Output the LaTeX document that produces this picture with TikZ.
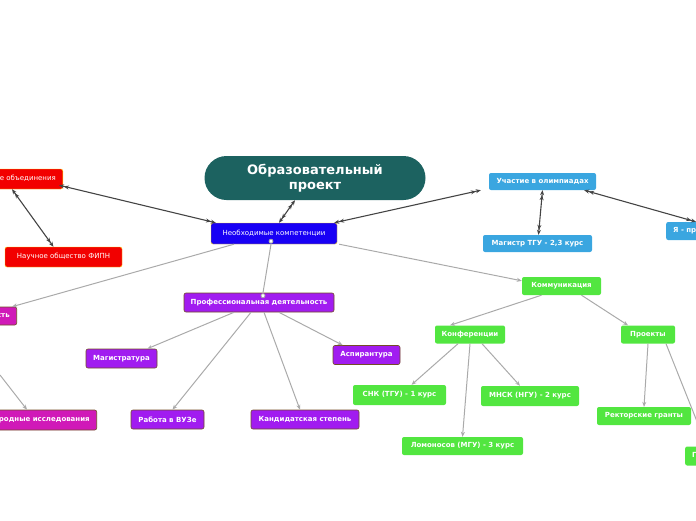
\documentclass[tikz,border=0pt]{standalone}
\usepackage{fontspec}
\setmainfont{DejaVu Sans}
\usetikzlibrary{arrows.meta}
\definecolor{teal}{HTML}{1C6260}
\definecolor{bluec}{HTML}{1800F5}
\definecolor{redc}{HTML}{F20000}
\definecolor{purp}{HTML}{A11CF0}
\definecolor{mag}{HTML}{D019B8}
\definecolor{sky}{HTML}{3AA6E0}
\definecolor{grn}{HTML}{52E640}
\definecolor{lnk}{HTML}{AAAAAA}
\definecolor{dk}{HTML}{444444}
\tikzset{
 box/.style={rounded corners=2pt,text=white,font=\fontsize{7}{8}\selectfont,inner sep=0pt,minimum height=19pt,align=center},
 bb/.style={box,font=\fontsize{7}{8}\selectfont\bfseries},
 pbox/.style={bb,fill=purp,draw=brown!60!black,line width=0.6pt},
 mbox/.style={bb,fill=mag,draw=brown!60!black,line width=0.6pt},
 gbox/.style={bb,fill=grn,minimum height=18pt},
 sbox/.style={bb,fill=sky,minimum height=17pt},
 rbox/.style={box,fill=redc,draw=yellow!70!orange,line width=0.4pt,minimum height=20pt},
 rt/.style={anchor=east,inner xsep=7pt,align=right},
 lt/.style={anchor=west,inner xsep=7pt,align=left},
 gl/.style={draw=lnk,line width=1pt,-{Stealth[length=5pt,width=4pt]}},
 dl/.style={draw=dk,line width=1.1pt,{Stealth[length=5pt,width=4pt]Stealth[length=5pt,width=4pt]}-{Stealth[length=5pt,width=4pt]Stealth[length=5pt,width=4pt]}},
}
\begin{document}
\begin{tikzpicture}[x=1pt,y=-1pt]
\useasboundingbox (0,0) rectangle (696,520);
\clip (0,0) rectangle (696,520);
\node[fill=teal,rounded corners=22pt,minimum width=221pt,minimum height=44pt,text=white,font=\fontsize{13}{15}\selectfont\bfseries,align=center,inner sep=0pt] (t) at (315,178) {Образовательный\\проект};
\node[box,fill=bluec,draw=yellow!70!orange,line width=0.4pt,minimum width=126pt,minimum height=21pt] (c) at (274,233.5) {Необходимые компетенции};
\node[rbox,rt] (ob) at (63,179) {Научные объединения};
\node[rbox,minimum width=117pt] (fi) at (63.5,257) {Научное общество ФИПН};
\node[mbox,rt,minimum height=18pt] (nd) at (17,316) {Научная деятельность};
\node[mbox,rt,minimum height=20pt] (mi) at (97,420) {Международные исследования};
\node[pbox,minimum width=150pt] (p) at (259,302.5) {Профессиональная деятельность};
\node[pbox,minimum width=71pt] (ma) at (121.5,358.5) {Магистратура};
\node[pbox,minimum width=67pt] (as) at (366.5,355) {Аспирантура};
\node[pbox,minimum width=73pt] (rv) at (167.5,419.5) {Работа в ВУЗе};
\node[pbox,minimum width=108pt] (ks) at (305,419.5) {Кандидатская степень};
\node[sbox,minimum width=107pt] (ol) at (542.5,181.5) {Участие в олимпиадах};
\node[sbox,minimum width=109pt] (mt) at (537.5,243.5) {Магистр ТГУ - 2,3 курс};
\node[sbox,lt,minimum height=18pt] (ya) at (666,231) {Я - призёр олимпиад};
\node[gbox,minimum width=79pt] (k) at (561.5,286) {Коммуникация};
\node[gbox,minimum width=70pt] (kf) at (470,334.5) {Конференции};
\node[gbox,minimum width=54pt] (pr) at (648,334.5) {Проекты};
\node[gbox,minimum width=93pt,minimum height=20pt] (s1) at (399.5,395) {СНК (ТГУ) - 1 курс};
\node[gbox,minimum width=98pt,minimum height=20pt] (s2) at (530,396) {МНСК (НГУ) - 2 курс};
\node[gbox,minimum width=121pt] (s3) at (462.5,446) {Ломоносов (МГУ) - 3 курс};
\node[gbox,minimum width=94pt] (rg) at (644,416) {Ректорские гранты};
\node[gbox,lt,minimum height=19pt] (gx) at (685,456) {Гранты};
\coordinate (nd2) at (0,375);
% dark links
\draw[dl] ([xshift=5pt]c.north) -- ([xshift=-20pt]t.south);
\draw[dl] ([xshift=5pt]c.north west) -- ([xshift=-4pt,yshift=4pt]ob.south east);
\draw[dl] ([xshift=12pt]ob.south -| 0,0) -- ([xshift=-10pt]fi.north);
\draw[dl] ([xshift=-3pt]c.north east) -- ([xshift=-8pt]ol.south west);
\draw[dl] (ol.south) -- ([xshift=1pt]mt.north);
\draw[dl] ([xshift=-12pt]ol.south east) -- ([xshift=30pt]ya.north west);
% grey links
\draw[gl] ([xshift=-40pt]c.south) -- ([xshift=-5pt]nd.north east);
\draw[draw=lnk,line width=1pt] ([xshift=-3pt]c.south) -- ([xshift=4pt]p.north);
\draw[lnk,line width=0.8pt,fill=white] ([xshift=-3pt,yshift=3pt]c.south) circle (2pt) ([xshift=4pt,yshift=-3pt]p.north) circle (2pt);
\draw[gl] ([xshift=2pt]c.south east) -- ([yshift=-4pt]k.north west);
\draw[gl] (nd2) -- ([xshift=-70pt]mi.north east);
\draw[gl] ([xshift=-25pt]p.south) -- ([xshift=-10pt]ma.north east);
\draw[gl] ([xshift=-8pt]p.south) -- ([xshift=5pt]rv.north);
\draw[gl] ([xshift=5pt]p.south) -- ([xshift=-5pt]ks.north);
\draw[gl] ([xshift=20pt]p.south) -- ([xshift=10pt]as.north west);
\draw[gl] ([xshift=-20pt]k.south) -- ([xshift=-20pt]kf.north);
\draw[gl] ([xshift=20pt]k.south) -- ([xshift=-20pt]pr.north);
\draw[gl] ([xshift=-12pt]kf.south) -- ([xshift=12pt]s1.north);
\draw[gl] (kf.south) -- (s3.north);
\draw[gl] ([xshift=12pt]kf.south) -- ([xshift=-10pt]s2.north);
\draw[gl] (pr.south) -- (rg.north);
\draw[gl] ([xshift=18pt]pr.south) -- (gx.north);
\end{tikzpicture}
\end{document}
